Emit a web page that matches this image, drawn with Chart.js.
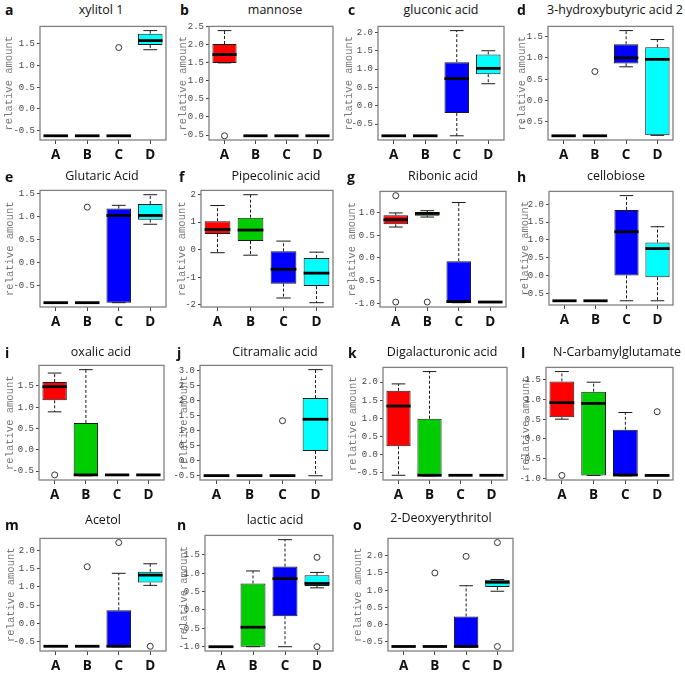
<!DOCTYPE html>
<html>
<head>
<meta charset="utf-8">
<script src="https://cdn.jsdelivr.net/npm/chart.js@4.4.1/dist/chart.umd.min.js"></script>
<style>
  body { margin: 0; background: #fff; width: 685px; height: 675px; position: relative; overflow: hidden; font-family: 'Open Sans', sans-serif; }
  .cv { position: absolute; }
  .ttl { position: absolute; font-size: 12.5px; line-height: 16px; transform: translateX(-50%); white-space: nowrap; color: #111; }
  .let { position: absolute; font-size: 14px; font-weight: bold; line-height: 16px; color: #111; }
</style>
</head>
<body>
<script>
// boxplot stats per panel, one row per panel, columns A B C D
const groups = ['A', 'B', 'C', 'D'];
const groupColors = ['#ff0000', '#00cd00', '#0000ff', '#00ffff'];
const letters = ['a', 'b', 'c', 'd', 'e', 'f', 'g', 'h', 'i', 'j', 'k', 'l', 'm', 'n', 'o'];
const titles = ['xylitol 1', 'mannose', 'gluconic acid', '3-hydroxybutyric acid 2',
  'Glutaric Acid', 'Pipecolinic acid', 'Ribonic acid', 'cellobiose',
  'oxalic acid', 'Citramalic acid', 'Digalacturonic acid', 'N-Carbamylglutamate',
  'Acetol', 'lactic acid', '2-Deoxyerythritol'];

const whiskerLow = [
  [-0.62, -0.62, -0.62, 1.36],
  [1.49, -0.52, -0.52, -0.52],
  [-0.82, -0.82, -0.82, 0.60],
  [-0.83, -0.83, 0.79, -0.82],
  [-0.87, -0.87, -0.87, 0.83],
  [-0.11, -0.20, -1.75, -1.92],
  [0.68, 0.90, -0.985, -0.97],
  [-0.70, -0.70, -0.70, -0.70],
  [0.89, -0.61, -0.59, -0.59],
  [-0.515, -0.515, -0.515, -0.52],
  [-0.57, -0.585, -0.57, -0.57],
  [0.50, -0.93, -0.94, -0.93],
  [-0.625, -0.625, -0.64, 1.04],
  [-1.0, -1.0, -1.0, 0.60],
  [-0.63, -0.63, -0.64, 0.97]
];
const boxLow = [
  [-0.62, -0.62, -0.62, 1.47],
  [1.49, -0.52, -0.52, -0.52],
  [-0.82, -0.82, -0.20, 0.86],
  [-0.83, -0.83, 0.87, -0.82],
  [-0.87, -0.87, -0.87, 0.93],
  [0.57, 0.31, -1.23, -1.32],
  [0.74, 0.93, -0.985, -0.97],
  [-0.70, -0.70, 0.01, -0.04],
  [1.16, -0.61, -0.59, -0.59],
  [-0.515, -0.515, -0.515, 0.31],
  [0.23, -0.585, -0.57, -0.57],
  [0.55, -0.93, -0.94, -0.93],
  [-0.625, -0.625, -0.64, 1.12],
  [-1.0, -1.0, -0.17, 0.65],
  [-0.63, -0.63, -0.64, 1.09]
];
const median = [
  [-0.62, -0.62, -0.62, 1.57],
  [1.72, -0.52, -0.52, -0.52],
  [-0.82, -0.82, 0.74, 1.02],
  [-0.83, -0.83, 1.00, 0.965],
  [-0.87, -0.87, 1.02, 1.02],
  [0.73, 0.71, -0.71, -0.85],
  [0.84, 0.98, -0.96, -0.97],
  [-0.70, -0.70, 1.23, 0.76],
  [1.48, -0.59, -0.59, -0.59],
  [-0.515, -0.515, -0.515, 1.37],
  [1.34, -0.57, -0.57, -0.57],
  [0.92, 0.90, -0.92, -0.93],
  [-0.625, -0.625, -0.625, 1.32],
  [-1.0, -0.47, 0.85, 0.72],
  [-0.63, -0.63, -0.63, 1.23]
];
const boxHigh = [
  [-0.62, -0.62, -0.62, 1.73],
  [2.01, -0.52, -0.52, -0.52],
  [-0.82, -0.82, 1.19, 1.40],
  [-0.83, -0.83, 1.32, 1.25],
  [-0.87, -0.87, 1.17, 1.27],
  [1.03, 1.16, -0.06, -0.30],
  [0.94, 1.01, -0.07, -0.97],
  [-0.70, -0.70, 1.84, 0.93],
  [1.59, 0.63, -0.59, -0.59],
  [-0.515, -0.515, -0.515, 2.08],
  [1.76, 0.99, -0.57, -0.57],
  [1.46, 1.20, 0.23, -0.93],
  [-0.625, -0.625, 0.36, 1.41],
  [-1.0, 0.72, 1.18, 0.94],
  [-0.63, -0.63, 0.24, 1.30]
];
const whiskerHigh = [
  [-0.62, -0.62, -0.62, 1.80],
  [2.38, -0.52, -0.52, -0.52],
  [-0.82, -0.82, 2.05, 1.50],
  [-0.83, -0.83, 1.64, 1.43],
  [-0.87, -0.87, 1.24, 1.47],
  [1.60, 1.99, 0.31, -0.09],
  [0.99, 1.04, 1.22, -0.97],
  [-0.70, -0.70, 2.24, 1.37],
  [1.80, 1.88, -0.59, -0.59],
  [-0.515, -0.515, -0.515, 3.03],
  [1.95, 2.29, -0.57, -0.57],
  [1.71, 1.44, 0.67, -0.93],
  [-0.625, -0.625, 1.37, 1.63],
  [-1.0, 1.06, 1.91, 1.02],
  [-0.63, -0.63, 1.13, 1.31]
];
const outliers = [
  [[], [], [1.41], []],
  [[-0.52], [], [], []],
  [[], [], [], []],
  [[], [0.68], [], []],
  [[], [1.20], [], []],
  [[], [], [], []],
  [[1.37, -0.97], [-0.97], [], []],
  [[], [], [], []],
  [[-0.59], [], [], []],
  [[], [], [1.32], []],
  [[], [], [], []],
  [[-0.93], [], [], [0.69]],
  [[], [1.55], [2.21], [-0.625]],
  [[], [], [], [1.43, -1.0]],
  [[], [1.50], [1.98], [2.38, -0.63]]
];
const yTicks = [
  [-0.5, 0, 0.5, 1, 1.5],
  [-0.5, 0, 0.5, 1, 1.5, 2, 2.5],
  [-0.5, 0, 0.5, 1, 1.5, 2],
  [-0.5, 0, 0.5, 1, 1.5],
  [-0.5, 0, 0.5, 1, 1.5],
  [-2, -1, 0, 1, 2],
  [-1, -0.5, 0, 0.5, 1],
  [-0.5, 0, 0.5, 1, 1.5, 2],
  [-0.5, 0, 0.5, 1, 1.5],
  [-0.5, 0, 0.5, 1, 1.5, 2, 2.5, 3],
  [-0.5, 0, 0.5, 1, 1.5, 2],
  [-1, -0.5, 0, 0.5, 1, 1.5],
  [-0.5, 0, 0.5, 1, 1.5, 2],
  [-1, -0.5, 0, 0.5, 1, 1.5],
  [-0.5, 0, 0.5, 1, 1.5, 2]
];

// layout: plot left, top, width, height, y-title offset from plot left
const plotBox = [
  [40, 24, 126, 116, 31], [209, 24, 124, 116, 26], [378, 24, 126, 116, 29], [548, 24, 125, 116, 26],
  [40, 188, 126, 119, 30], [201, 188, 132, 119, 19], [380, 189, 126, 118, 28], [549, 189, 124, 116, 24],
  [39, 363, 125, 117, 29], [200, 363, 132, 117, 16], [383, 365, 124, 115, 30], [546, 365, 127, 115, 20],
  [40, 536, 126, 115, 29], [205, 533, 128, 118, 21], [388, 536, 125, 115, 30]
];
// title centre x, title centre y, letter left, letter centre y
const headPos = [
  [101, 10, 5, 10], [275, 10, 180, 10], [441, 10, 348, 10], [615, 10, 517, 10],
  [102, 176, 5, 177], [276, 176, 179, 177], [443, 176, 347, 177], [616, 176, 517, 177],
  [101, 352, 5, 353], [275, 352, 177, 353], [442, 352, 348, 353], [617, 352, 521, 353],
  [103, 520, 5, 525], [275, 520, 177, 525], [441, 518, 353, 525]
];

const Y_W = 40, X_H = 30, PAD_T = 5, PAD_R = 4;

function boxPlugin(k) {
  return {
    id: 'boxes' + k,
    afterDatasetsDraw(chart) {
      const { ctx, chartArea: a, scales: { x, y } } = chart;
      const meta = chart.getDatasetMeta(0);
      const seg = (x1, y1, x2, y2) => { ctx.beginPath(); ctx.moveTo(x1, y1); ctx.lineTo(x2, y2); ctx.stroke(); };
      ctx.save();
      groups.forEach((g, i) => {
        const cx = x.getPixelForValue(i);
        const bw = meta.data[i].width;
        ctx.strokeStyle = '#1a1a1a';
        ctx.lineWidth = 1;
        ctx.setLineDash([3, 2]);
        seg(cx, y.getPixelForValue(boxHigh[k][i]), cx, y.getPixelForValue(whiskerHigh[k][i]));
        seg(cx, y.getPixelForValue(boxLow[k][i]), cx, y.getPixelForValue(whiskerLow[k][i]));
        ctx.setLineDash([]);
        [whiskerHigh[k][i], whiskerLow[k][i]].forEach(v => {
          const py = y.getPixelForValue(v);
          seg(cx - bw * 0.28, py, cx + bw * 0.28, py);
        });
        // median
        ctx.lineWidth = 2.8;
        ctx.strokeStyle = '#000';
        const my = y.getPixelForValue(median[k][i]);
        seg(cx - bw / 2, my, cx + bw / 2, my);
        // outliers
        ctx.lineWidth = 1;
        ctx.strokeStyle = '#333';
        outliers[k][i].forEach(v => {
          ctx.beginPath();
          ctx.arc(cx, y.getPixelForValue(v), 3, 0, Math.PI * 2);
          ctx.fillStyle = '#fff';
          ctx.fill();
          ctx.stroke();
        });
      });
      ctx.strokeStyle = '#808080';
      ctx.lineWidth = 1.3;
      ctx.strokeRect(a.left, a.top, a.width, a.height);
      ctx.restore();
    }
  };
}

titles.forEach((t, k) => {
  const [pl, pt, pw, ph, yo] = plotBox[k];
  const [tx, ty, lx, ly] = headPos[k];

  const ttl = document.createElement('div');
  ttl.className = 'ttl';
  ttl.textContent = t;
  ttl.style.left = tx + 'px';
  ttl.style.top = (ty - 8) + 'px';
  document.body.appendChild(ttl);

  const let_ = document.createElement('div');
  let_.className = 'let';
  let_.textContent = letters[k];
  let_.style.left = lx + 'px';
  let_.style.top = (ly - 8) + 'px';
  document.body.appendChild(let_);

  const c = document.createElement('canvas');
  c.className = 'cv';
  const w = pw + Y_W + PAD_R, h = ph + PAD_T + X_H;
  c.width = w; c.height = h;
  c.style.left = (pl - Y_W) + 'px';
  c.style.top = (pt - PAD_T) + 'px';
  c.style.width = w + 'px'; c.style.height = h + 'px';
  document.body.appendChild(c);

  // R-style range: data extent plus 4% each side
  const all = [].concat(whiskerLow[k], whiskerHigh[k], ...outliers[k]);
  const lo = Math.min(...all), hi = Math.max(...all);
  const pad = (hi - lo) * 0.04;
  const intTicks = yTicks[k].every(v => Number.isInteger(v));

  new Chart(c, {
    type: 'bar',
    data: {
      labels: groups,
      datasets: [{
        data: groups.map((g, i) => [boxLow[k][i], boxHigh[k][i]]),
        backgroundColor: groupColors,
        borderColor: '#1a1a1a',
        borderWidth: 1,
        borderSkipped: false,
        barPercentage: 0.78,
        categoryPercentage: 1
      }]
    },
    options: {
      responsive: false,
      animation: false,
      layout: { padding: { top: PAD_T, right: PAD_R, left: 0, bottom: 0 } },
      plugins: { legend: { display: false }, tooltip: { enabled: false } },
      scales: {
        x: {
          border: { display: false },
          grid: { offset: false, drawOnChartArea: false, tickLength: 4, color: '#444' },
          ticks: { font: { family: 'Open Sans', weight: 'bold', size: 13.5 }, color: '#111', padding: 3, maxRotation: 0 },
          afterFit: s => { s.height = X_H; }
        },
        y: {
          min: lo - pad,
          max: hi + pad,
          border: { display: false },
          grid: { drawOnChartArea: false, tickLength: 3, color: '#444' },
          afterBuildTicks: s => { s.ticks = yTicks[k].map(v => ({ value: v })); },
          ticks: {
            autoSkip: false,
            callback: v => intTicks ? v.toFixed(0) : v.toFixed(1),
            font: { family: 'Liberation Mono', size: 9 },
            color: '#444',
            padding: 2
          },
          title: {
            display: true,
            text: 'relative amount',
            font: { family: 'Liberation Mono', size: 10.5 },
            color: '#777',
            padding: { top: Y_W - yo - 6.3, bottom: 0 }
          },
          afterFit: s => { s.width = Y_W; }
        }
      }
    },
    plugins: [boxPlugin(k)]
  });
});
</script>
</body>
</html>
